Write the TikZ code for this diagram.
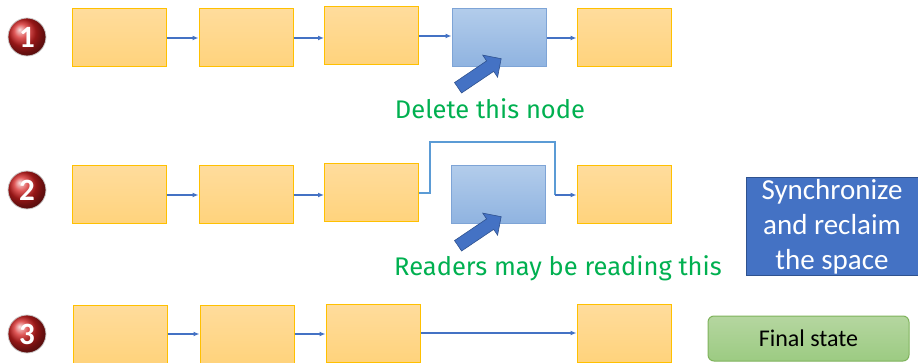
\documentclass[tikz,border=0pt]{standalone}
\usepackage{fontspec}
\setmainfont{Carlito}
\newfontfamily\notefont{Fira Sans}
\usetikzlibrary{shapes.arrows,calc,arrows.meta}
\definecolor{obord}{HTML}{FFC000}
\definecolor{otop}{HTML}{FFDC9C}
\definecolor{obot}{HTML}{FFD37C}
\definecolor{btop}{HTML}{B2CCEB}
\definecolor{bbot}{HTML}{8FB3E0}
\definecolor{bbord}{HTML}{7EA4D6}
\definecolor{conncol}{HTML}{4472C4}
\definecolor{bypasscol}{HTML}{5B9BD5}
\definecolor{darkblue}{HTML}{2F528F}
\definecolor{notegreen}{HTML}{00B050}
\definecolor{gtop}{HTML}{B5D6A0}
\definecolor{gbot}{HTML}{9CCB82}
\definecolor{gbord}{HTML}{7FB35C}
\definecolor{ballred}{HTML}{D42020}
\tikzset{
  obox/.style={draw=obord, line width=1pt, top color=otop, bottom color=obot, minimum width=94pt, minimum height=58pt, inner sep=0pt},
  bbox/.style={draw=bbord, line width=1pt, top color=btop, bottom color=bbot, minimum width=94pt, minimum height=58pt, inner sep=0pt},
  conn/.style={draw=conncol, line width=1.2pt, -{Latex[length=6pt,width=5pt]}},
  bypass/.style={draw=bypasscol, line width=2pt},
  bypassend/.style={draw=conncol, line width=1.2pt, -{Latex[length=6pt,width=5pt]}},
  numball/.style={circle, shading=ball, ball color=ballred, draw=gray!40, line width=0.8pt, minimum size=38pt, inner sep=0pt, text=white, font=\fontsize{31}{31}\selectfont\bfseries},
  blockarrow/.style={single arrow, draw=darkblue, line width=0.6pt, fill=conncol, single arrow head extend=7pt, inner xsep=0pt, inner ysep=6pt, minimum height=52pt, rotate=34},
  note/.style={text=notegreen, font=\notefont\fontsize{25.5}{25.5}\selectfont, inner sep=0pt},
}
\begin{document}
\begin{tikzpicture}[x=1pt,y=-1pt]
\useasboundingbox (0,0) rectangle (918,363);
% Row 1
\node[numball] (c1) at (27,37) {1};
\node[obox] (r1a) at (119,38) {};
\node[obox] (r1b) at (246,38) {};
\node[obox] (r1c) at (371.5,36) {};
\node[bbox] (r1d) at (499,38) {};
\node[obox] (r1e) at (624,38) {};
\draw[conn] (r1a.east) -- (r1a.east -| r1b.west);
\draw[conn] (r1b.east) -- (r1c.west |- r1b.east);
\draw[conn] (r1c.east) -- (r1d.west |- r1c.east);
\draw[conn] (r1d.east) -- (r1e.west);
\node[blockarrow] (a1) at (477,75) {};
\node[note] (t1) at (490,109) {Delete this node};
% Row 2
\node[numball] (c2) at (27,190) {2};
\node[obox] (r2a) at (119,195) {};
\node[obox] (r2b) at (246,195) {};
\node[obox] (r2c) at (371.5,193) {};
\node[bbox] (r2d) at (498,195) {};
\node[obox] (r2e) at (624,195) {};
\draw[conn] (r2a.east) -- (r2a.east -| r2b.west);
\draw[conn] (r2b.east) -- (r2c.west |- r2b.east);
\coordinate (k1) at (430,142);
\coordinate (k2) at (555,142);
\draw[bypass] (r2c.east) -| (k1) -- (k2) -- (k2 |- r2e.west);
\draw[bypassend] (k2 |- r2e.west) -- (r2e.west);
\node[blockarrow] (a2) at (477,233) {};
\node[note] (t2) at (558,268) {Readers may be reading this};
\node[draw=darkblue, line width=1pt, fill=conncol, text=white, minimum width=172pt, minimum height=98pt, align=center, inner sep=0pt, font=\fontsize{29}{35}\selectfont] (sync) at (832,227) {Synchronize\\and reclaim\\the space};
% Row 3
\node[numball] (c3) at (27,334) {3};
\node[obox] (r3a) at (120,334) {};
\node[obox] (r3b) at (247,334) {};
\node[obox] (r3c) at (373,333) {};
\node[obox] (r3e) at (624,333) {};
\draw[conn] (r3a.east) -- (r3a.east -| r3b.west);
\draw[conn] (r3b.east) -- (r3c.west |- r3b.east);
\draw[conn] (r3c.east) -- (r3e.west);
\node[draw=gbord, line width=1pt, rounded corners=6pt, top color=gtop, bottom color=gbot, minimum width=201pt, minimum height=45pt, inner sep=0pt, font=\fontsize{24}{24}\selectfont] (fin) at (808.5,338.5) {Final state};
\end{tikzpicture}
\end{document}
